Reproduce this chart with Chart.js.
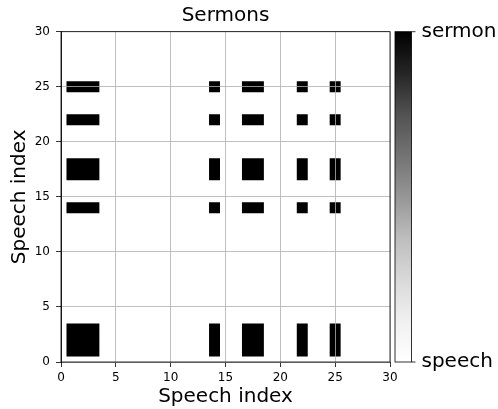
<!DOCTYPE html>
<html>
<head>
<meta charset="utf-8">
<script src="https://cdn.jsdelivr.net/npm/chart.js@4/dist/chart.umd.min.js"></script>
<style>
  html, body { margin: 0; padding: 0; background: #fff; }
  #wrap { width: 498px; height: 409px; }
</style>
</head>
<body>
<div id="wrap"><canvas id="chart" width="498" height="409"></canvas></div>
<script>
// speeches labelled as sermons (0-based speech index), the rest are plain speeches
const sermonIdx = [1, 2, 3, 14, 17, 18, 22, 25];
const xTicks = [0, 5, 10, 15, 20, 25, 30];
const yTicks = [0, 5, 10, 15, 20, 25, 30];
const cbarLabels = ['speech', 'sermon'];

// cell (i, j) is dark when both speeches are sermons
const cells = [];
sermonIdx.forEach(i => sermonIdx.forEach(j => cells.push({ x: i, y: j, v: 1 })));

const FONT = 'DejaVu Sans';
const greys = ['#ffffff', '#f0f0f0', '#d9d9d9', '#bdbdbd', '#969696', '#737373', '#525252', '#252525', '#000000'];

const matrixPlugin = {
  id: 'matrix',
  beforeDatasetsDraw(chart) {
    const { ctx, chartArea, scales: { x, y } } = chart;
    ctx.save();
    ctx.beginPath();
    ctx.rect(chartArea.left, chartArea.top, chartArea.right - chartArea.left, chartArea.bottom - chartArea.top);
    ctx.clip();
    ctx.beginPath();
    chart.data.datasets[0].data.forEach(c => {
      const x0 = x.getPixelForValue(c.x - 0.5), x1 = x.getPixelForValue(c.x + 0.5);
      const y0 = y.getPixelForValue(c.y + 0.5), y1 = y.getPixelForValue(c.y - 0.5);
      ctx.rect(x0, y0, x1 - x0, y1 - y0);
    });
    ctx.fillStyle = '#000';
    ctx.fill();
    ctx.restore();
  },
  afterDraw(chart) {
    const { ctx, chartArea: a } = chart;
    ctx.save();
    // frame (all four spines)
    ctx.strokeStyle = '#000';
    ctx.lineWidth = 0.8;
    ctx.strokeRect(a.left, a.top, a.right - a.left, a.bottom - a.top);

    // colorbar
    const cx = a.right + 5, cw = 16.5;
    const g = ctx.createLinearGradient(0, a.bottom, 0, a.top);
    greys.forEach((c, k) => g.addColorStop(k / (greys.length - 1), c));
    ctx.fillStyle = g;
    ctx.fillRect(cx, a.top, cw, a.bottom - a.top);
    ctx.strokeRect(cx, a.top, cw, a.bottom - a.top);
    ctx.beginPath();
    ctx.moveTo(cx + cw, a.top); ctx.lineTo(cx + cw + 4, a.top);
    ctx.moveTo(cx + cw, a.bottom); ctx.lineTo(cx + cw + 4, a.bottom);
    ctx.stroke();
    ctx.fillStyle = '#000';
    ctx.font = '20px "' + FONT + '"';
    ctx.textAlign = 'left';
    ctx.textBaseline = 'middle';
    ctx.fillText(cbarLabels[1], cx + cw + 10, a.top);
    ctx.fillText(cbarLabels[0], cx + cw + 10, a.bottom);
    ctx.restore();
  }
};

function axisOpts(ticks, title, pos) {
  return {
    type: 'linear',
    position: pos,
    min: 0,
    max: 30,
    afterBuildTicks: s => { s.ticks = ticks.map(v => ({ value: v })); },
    afterFit: s => {
      if (pos === 'left') s.width = 61;
      else s.height = 47;
    },
    grid: {
      color: '#b0b0b0',
      lineWidth: 0.8,
      tickColor: '#000',
      tickLength: 5,
      z: 1
    },
    border: { display: true, color: '#000', width: 0.8, z: 1 },
    ticks: {
      color: '#000',
      font: { family: FONT, size: 12 },
      padding: pos === 'left' ? 6 : 4,
      maxRotation: 0,
      autoSkip: false
    },
    title: {
      display: true,
      text: title,
      color: '#000',
      font: { family: FONT, size: 20 },
      padding: pos === 'left' ? { top: 8, bottom: 0 } : { top: 0, bottom: 0 }
    }
  };
}

new Chart(document.getElementById('chart'), {
  type: 'scatter',
  data: {
    datasets: [{
      label: 'Sermons',
      data: cells,
      pointRadius: 0,
      pointHoverRadius: 0
    }]
  },
  options: {
    responsive: false,
    animation: false,
    events: [],
    layout: { padding: { left: 0, right: 108, top: 0, bottom: 0 } },
    plugins: {
      legend: { display: false },
      tooltip: { enabled: false },
      title: {
        display: true,
        text: 'Sermons',
        fullSize: false,
        color: '#000',
        font: { family: FONT, size: 20, weight: 'normal' },
        padding: { top: 3.5, bottom: 4.2 }
      }
    },
    scales: {
      x: axisOpts(xTicks, 'Speech index', 'bottom'),
      y: axisOpts(yTicks, 'Speech index', 'left')
    }
  },
  plugins: [matrixPlugin]
});
</script>
</body>
</html>
